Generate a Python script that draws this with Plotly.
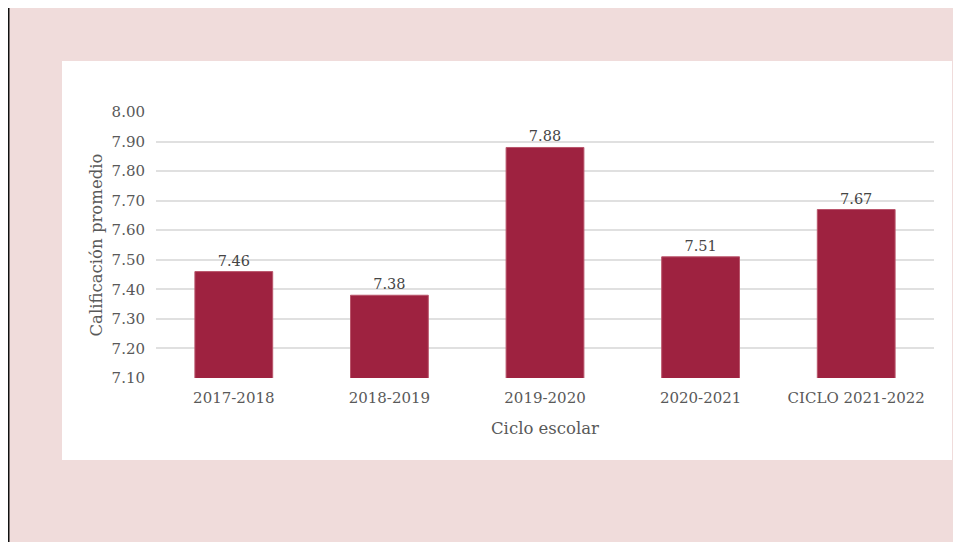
import plotly.graph_objects as go

ciclos = ['2017-2018', '2018-2019', '2019-2020', '2020-2021', 'CICLO 2021-2022']
calificacion = [7.46, 7.38, 7.88, 7.51, 7.67]
y_ticks = [7.10, 7.20, 7.30, 7.40, 7.50, 7.60, 7.70, 7.80, 7.90, 8.00]

# the page puts the figure 8px in from the top-left corner
W, H = 953, 534
L, R, T, B = 148, 27, 104, 164
pw, ph = W - L - R, H - T - B


def px_x(x):
    return (x - L) / pw


def px_y(y):
    return (H - B - y) / ph


font_fam = "DejaVu Serif"
txt_col = '#595959'

fig = go.Figure()
fig.add_trace(go.Bar(
    x=ciclos, y=calificacion,
    marker=dict(color='#9E2240', line=dict(color='#b9556b', width=1)),
    text=[f'{v:.2f}' for v in calificacion],
    textposition='outside',
    textfont=dict(family=font_fam, size=14.5, color='#454545'),
    cliponaxis=False,
))

fig.update_layout(
    width=W, height=H,
    margin=dict(l=L, r=R, t=T, b=B),
    paper_bgcolor='#F0DCDB',
    plot_bgcolor='white',
    showlegend=False,
    bargap=0.5,
    font=dict(family=font_fam, size=15, color=txt_col),
    xaxis=dict(
        title=dict(text='Ciclo escolar', font=dict(size=16.5, color=txt_col), standoff=16),
        tickfont=dict(size=15, color=txt_col),
        showgrid=False, showline=False, ticks='', ticklabelstandoff=9,
    ),
    yaxis=dict(
        title=dict(text='Calificación promedio', font=dict(size=16.5, color=txt_col), standoff=4),
        range=[7.10, 8.00], tickvals=y_ticks, tickformat='.2f',
        tickfont=dict(size=15, color=txt_col),
        showgrid=True, gridcolor='#e0e0e0', gridwidth=1.5,
        zeroline=False, showline=False, ticks='', ticklabelstandoff=10,
    ),
    shapes=[
        # white panel
        dict(type='rect', xref='paper', yref='paper', layer='below',
             x0=px_x(54), x1=px_x(944), y0=px_y(452), y1=px_y(53),
             fillcolor='white', line=dict(width=0)),
        # left black line
        dict(type='line', xref='paper', yref='paper',
             x0=px_x(0), x1=px_x(0), y0=px_y(-2), y1=px_y(540),
             line=dict(color='#111111', width=3)),
    ],
)

fig.write_html("out.html")
